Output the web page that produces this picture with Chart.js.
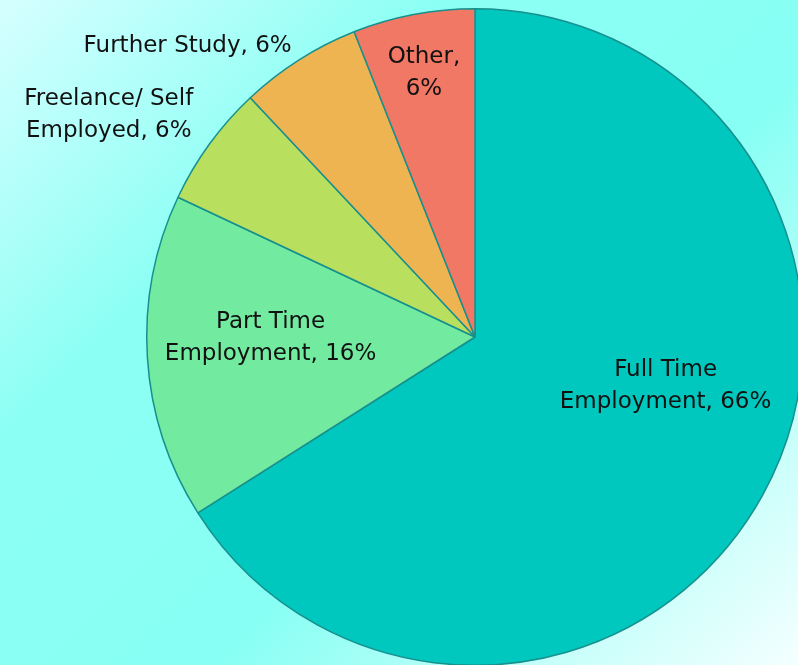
<!DOCTYPE html>
<html>
<head>
<meta charset="utf-8">
<script src="https://cdn.jsdelivr.net/npm/chart.js@4.4.1/dist/chart.umd.min.js"></script>
<style>
  html, body { margin: 0; padding: 0; }
  body {
    width: 798px; height: 665px; overflow: hidden; position: relative;
    background: linear-gradient(135deg, #d6ffff 0%, #8cfff4 30%, #88fff4 60%, #f4ffff 100%);
  }
  #wrap { position: absolute; left: 0; top: 0; width: 830px; height: 670px; }
</style>
</head>
<body>
<div id="wrap"><canvas id="pie"></canvas></div>
<script>
  // Destinos dos formandos (fatias no sentido horário a partir do topo)
  const categorias = ['Full Time Employment', 'Part Time Employment', 'Freelance/ Self Employed', 'Further Study', 'Other'];
  const percentuais = [66, 16, 6, 6, 6];
  const cores = ['#00c8be', '#72eaa0', '#b8e05e', '#eeb452', '#f07864'];
  // texto de cada rótulo, em linhas
  const rotulos = [
    ['Full Time', 'Employment, 66%'],
    ['Part Time', 'Employment, 16%'],
    ['Freelance/ Self', 'Employed, 6%'],
    ['Further Study, 6%'],
    ['Other,', '6%'],
  ];

  // posição do rótulo: fração do raio no ângulo médio da fatia + ajuste em px
  const ancoras = [
    { f: 0.60, dx: 18, dy: -46 },
    { f: 0.63, dx: 2, dy: -12 },
    { f: 1.30, dx: -21, dy: 29 },
    { f: 1.27, dx: -64, dy: 61 },
    { f: 0.83, dx: 0, dy: 4 },
  ];

  const rotulosPlugin = {
    id: 'rotulos',
    afterDatasetsDraw(chart) {
      const { ctx } = chart;
      const arcos = chart.getDatasetMeta(0).data;
      ctx.save();
      ctx.font = '23px "DejaVu Sans"';
      ctx.fillStyle = '#111';
      ctx.textAlign = 'center';
      ctx.textBaseline = 'middle';
      arcos.forEach((arco, i) => {
        const { x, y, startAngle, endAngle, outerRadius } = arco.getProps(['x', 'y', 'startAngle', 'endAngle', 'outerRadius'], true);
        const meio = (startAngle + endAngle) / 2;
        const a = ancoras[i];
        const cx = x + Math.cos(meio) * outerRadius * a.f + a.dx;
        const cy = y + Math.sin(meio) * outerRadius * a.f + a.dy;
        const linhas = rotulos[i];
        const alt = 32;
        linhas.forEach((txt, k) => {
          ctx.fillText(txt, cx, cy + (k - (linhas.length - 1) / 2) * alt);
        });
      });
      ctx.restore();
    },
  };

  new Chart(document.getElementById('pie'), {
    type: 'pie',
    data: {
      labels: categorias,
      datasets: [{
        data: percentuais,
        backgroundColor: cores,
        borderColor: '#17908e',
        borderWidth: 1.5,
      }],
    },
    options: {
      responsive: true,
      maintainAspectRatio: false,
      animation: false,
      layout: { padding: { left: 146, top: 8, right: 26, bottom: 4 } },
      plugins: {
        legend: { display: false },
        tooltip: { enabled: false },
      },
    },
    plugins: [rotulosPlugin],
  });
</script>
</body>
</html>
